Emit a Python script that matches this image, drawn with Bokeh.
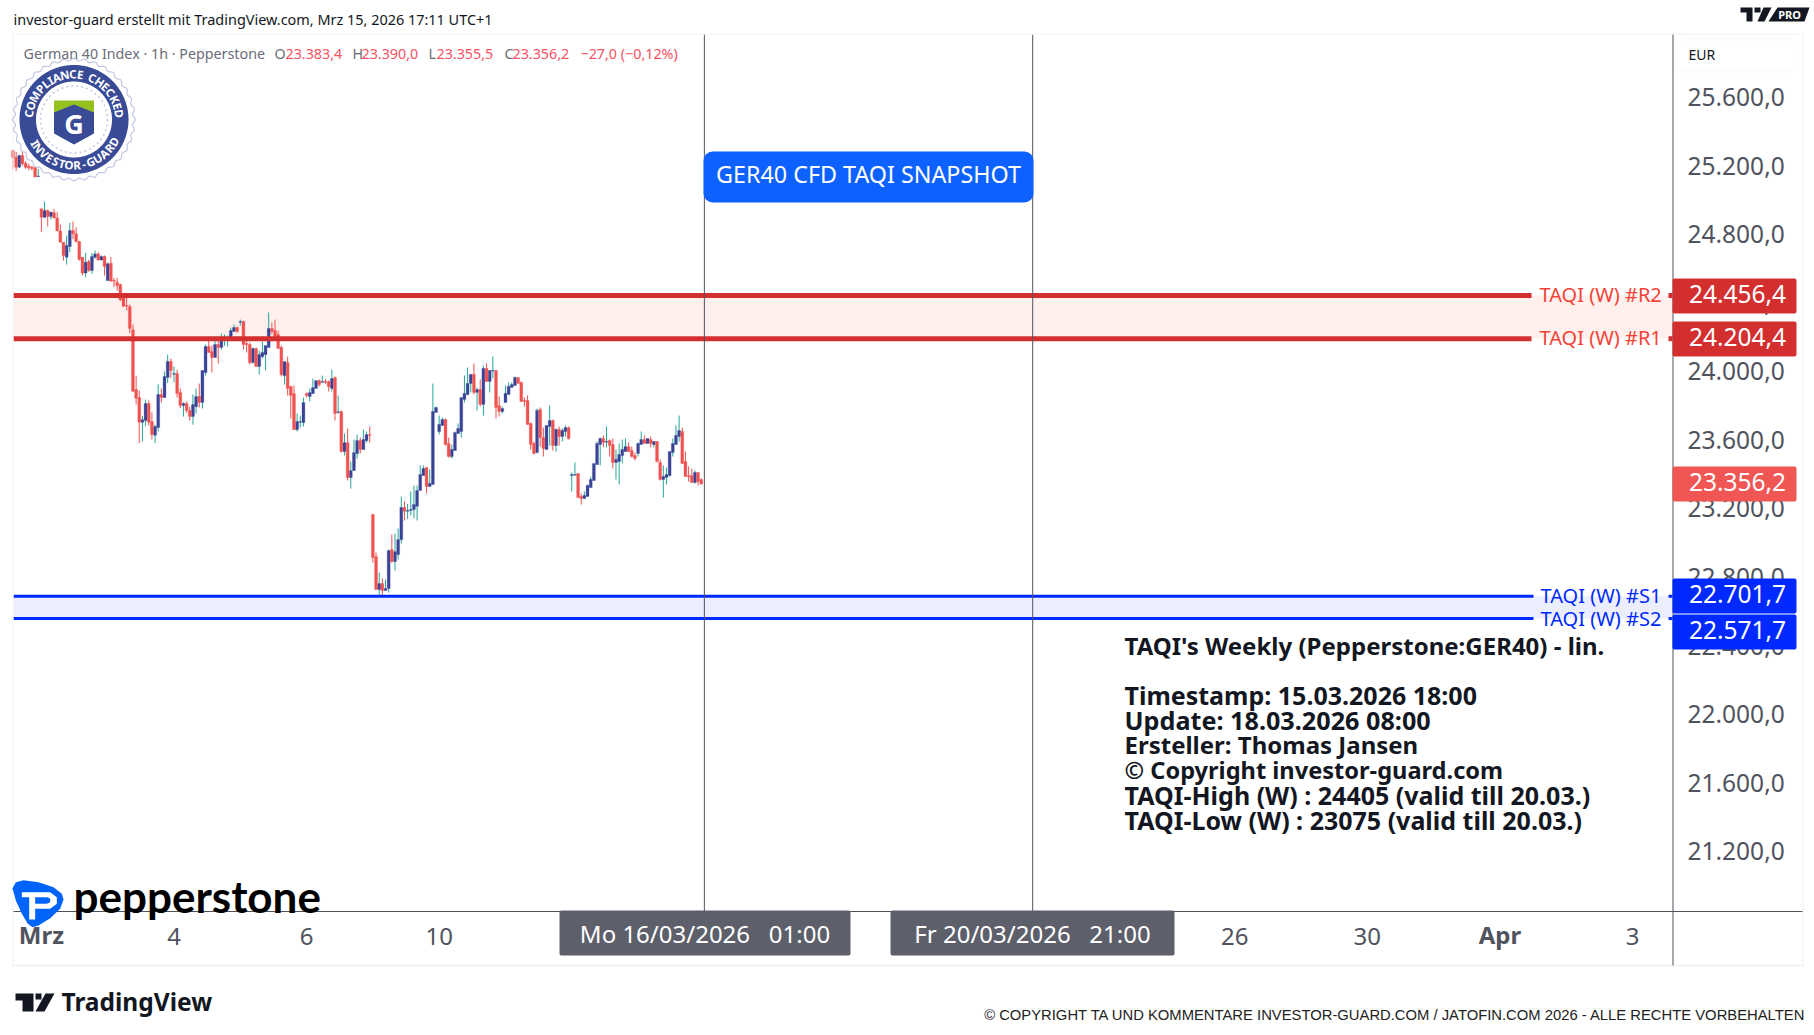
import numpy as np
from bokeh.plotting import figure
from bokeh.embed import file_html
from bokeh.resources import INLINE
from bokeh.models import Label, BoxAnnotation, PolyAnnotation, FixedTicker, Range1d

opens = [25302,25263,25205,25273,25228,25211,25205,25201,25151,
24962,24913,24952,24917,24939,24909,24832,24767,24680,24742,24836,24816,24771,24680,24587,24655,24602,24680,24699,24664,24684,24544,24645,24544,24534,24520,24447,24398,24392,
24256,23908,23861,23717,23727,23826,23721,23641,23686,23879,23861,23978,24071,23997,24001,23890,23814,23826,23785,23750,23808,23867,23832,24007,24159,24129,24094,24170,24153,24199,24199,24199,24246,24269,24301,24304,24176,24170,24065,24147,24042,24100,24112,24153,24264,24252,24229,24153,23989,24065,23925,23884,23674,23717,23715,23884,23867,23884,23914,23960,23950,23956,23954,23914,23978,23774,23779,23546,23598,23394,23435,23534,23610,23558,23610,23645,23178,22933,22741,22776,22735,22747,22974,22904,22945,
23032,23220,23198,23202,23208,23227,23319,23406,23453,23342,23354,23774,23663,23698,23733,23593,23517,23552,23651,23663,23850,23879,23943,23996,23891,23908,23821,24031,23955,24015,24019,23815,23780,23832,23879,23920,23931,23978,23949,23844,23844,23710,23593,23541,23791,23628,23558,23692,23727,23581,23675,23634,23663,23686,23406,23408,23418,23284,23272,23284,23336,23377,23470,23587,23622,23601,23611,23587,23482,23488,23523,23546,23575,23552,23523,23535,23587,23616,23593,23616,23587,23605,23482,23383,23395,23406,23541,23587,23634,23663,23488,23406,23406,23365,23424,23383.4]
highs = [25308,25293,25279,25293,25240,25225,25213,25205,25195,
24962,25005,24958,24943,24962,24943,24871,24767,24806,24880,24888,24855,24775,24680,24705,24665,24705,24719,24709,24690,24690,24650,24680,24559,24559,24525,24450,24447,24404,
24287,23989,23902,23754,23849,23844,23774,23703,23937,23914,24013,24112,24089,24042,24024,23914,23834,23838,23808,23879,23914,23943,24019,24170,24211,24164,24217,24194,24234,24229,24223,24269,24287,24275,24316,24310,24194,24182,24153,24153,24135,24188,24164,24357,24299,24316,24252,24164,24071,24100,23931,23931,23768,23756,23861,23890,23914,23972,23960,23966,23989,23970,23960,24024,23984,23873,23785,23651,23680,23488,23616,23645,23628,23674,23663,23692,23184,22957,22840,22805,22799,22974,23062,23067,23097,
23284,23255,23241,23313,23348,23348,23465,23465,23453,23441,23943,23809,23756,23745,23739,23628,23587,23663,23710,23861,23990,24036,23996,24060,23920,23966,24048,24060,24019,24101,24019,23867,23809,23931,23949,23949,23984,23978,23955,23861,23873,23716,23605,23797,23803,23686,23698,23815,23733,23681,23692,23681,23698,23692,23424,23482,23418,23301,23313,23354,23400,23476,23605,23628,23640,23692,23616,23622,23558,23593,23616,23622,23599,23575,23540,23599,23663,23640,23622,23634,23605,23605,23500,23465,23453,23546,23622,23698,23756,23686,23546,23459,23447,23436,23424,23390]
lows = [25190,25182,25201,25215,25195,25186,25186,25147,25147,
24826,24909,24859,24900,24905,24832,24767,24660,24637,24709,24785,24765,24660,24573,24563,24595,24583,24670,24660,24660,24573,24540,24538,24505,24485,24425,24390,24369,24236,
23892,23820,23595,23606,23694,23698,23616,23595,23663,23832,23861,23945,23976,23950,23861,23799,23750,23773,23727,23703,23768,23803,23797,23989,24124,24007,24094,24059,24141,24164,24159,24199,24246,24240,24281,24141,24124,24054,24059,24042,23995,24089,24019,24153,24229,24211,24147,23984,23937,23873,23738,23674,23663,23686,23692,23861,23838,23884,23914,23925,23945,23941,23896,23896,23727,23768,23540,23523,23377,23330,23435,23505,23534,23558,23598,23598,22898,22741,22700,22706,22735,22723,22898,22852,22916,
23010,23144,23153,23173,23157,23144,23319,23406,23301,23342,23354,23774,23646,23698,23581,23511,23505,23552,23651,23628,23832,23873,23891,23879,23786,23809,23756,23955,23891,23972,23739,23751,23768,23832,23879,23920,23931,23943,23838,23809,23704,23558,23529,23535,23575,23517,23558,23581,23552,23546,23581,23605,23634,23616,23313,23406,23278,23237,23272,23284,23336,23377,23470,23465,23570,23570,23517,23447,23383,23354,23476,23546,23546,23511,23494,23517,23587,23593,23593,23570,23570,23482,23377,23278,23354,23400,23517,23587,23605,23476,23400,23371,23365,23360,23348,23355.5]
closes = [25260,25205,25273,25225,25205,25201,25197,25147,25153,
24913,24952,24917,24943,24909,24832,24767,24690,24748,24836,24816,24771,24666,24587,24651,24602,24684,24699,24664,24684,24625,24641,24540,24540,24515,24431,24394,24394,24264,
23898,23857,23717,23731,23826,23717,23645,23692,23879,23861,23984,24071,24019,24001,23884,23814,23826,23785,23750,23820,23867,23832,24019,24159,24124,24094,24170,24153,24199,24205,24205,24252,24269,24246,24304,24170,24170,24065,24147,24042,24112,24124,24164,24264,24246,24217,24147,23995,24071,23914,23873,23674,23721,23721,23832,23873,23890,23919,23960,23937,23954,23950,23925,23972,23768,23779,23546,23598,23394,23435,23540,23610,23558,23616,23645,23641,22927,22741,22776,22735,22747,22968,22904,22962,23032,
23220,23198,23202,23208,23237,23319,23412,23447,23342,23360,23780,23803,23704,23733,23587,23517,23558,23657,23681,23861,23885,23943,23996,23891,23908,23821,24031,23955,24019,24019,23803,23780,23797,23885,23926,23937,23978,23943,23838,23838,23704,23587,23535,23786,23628,23564,23698,23727,23581,23675,23634,23669,23686,23622,23412,23412,23278,23272,23290,23348,23383,23476,23593,23622,23599,23605,23581,23482,23500,23529,23558,23575,23546,23517,23506,23593,23616,23593,23622,23593,23605,23488,23383,23400,23412,23546,23593,23640,23669,23476,23400,23400,23365,23424,23371,23356.2]

price_ticks = [21200,21600,22000,22400,22800,23200,23600,24000,24400,24800,25200,25600]
price_labels = ["21.200,0","21.600,0","22.000,0","22.400,0","22.800,0","23.200,0","23.600,0","24.000,0","24.400,0","24.800,0","25.200,0","25.600,0"]
time_ticks = [42,84,126,378,420,504]
time_labels = ["4","6","10","26","30","3"]
month_ticks = [0,462]
month_labels = ["Mrz","Apr"]
cursor_ticks = [210,314]
cursor_labels = ["Mo 16/03/2026\u00a0\u00a0\u00a001:00","Fr 20/03/2026\u00a0\u00a0\u00a021:00"]
R2, R1, S1, S2 = 24456.4, 24204.4, 22701.7, 22571.7
LAST = 23356.2

FONT = "Noto Sans"
def X(px): return (px - 40.9) / 3.157
def Y(py): return 24456.4 - (py - 295) * 5.834

p = figure(width=1814, height=1035, output_backend="svg", toolbar_location=None,
           x_range=Range1d(X(0), X(1814)), y_range=Range1d(Y(1035), Y(0)),
           y_axis_location="right", min_border=0, outline_line_color=None,
           background_fill_color="white", border_fill_color="white")
p.grid.visible = False

NUDGE = 14  # the reference's tick texts sit a little above their exact level
ax = p.yaxis[0]
ax.ticker = FixedTicker(ticks=[t + NUDGE for t in price_ticks])
ax.major_label_overrides = {t + NUDGE: l for t, l in zip(price_ticks, price_labels)}
ax.major_tick_line_color = None
ax.minor_tick_line_color = None
ax.major_label_standoff = -133
ax.major_label_text_font = FONT
ax.major_label_text_font_size = "24.5px"
ax.major_label_text_color = "#50535e"
ax.axis_line_color = None

bx = p.xaxis[0]
bx.ticker = FixedTicker(ticks=time_ticks)
bx.major_label_overrides = {t: l for t, l in zip(time_ticks, time_labels)}
bx.major_tick_line_color = None
bx.minor_tick_line_color = None
bx.major_label_standoff = -114
bx.major_label_text_font = FONT
bx.major_label_text_font_size = "24px"
bx.major_label_text_color = "#50535e"
bx.axis_line_color = None

idx = np.arange(len(opens)) - 9
o, h, l, c = map(np.array, (opens, highs, lows, closes))
up = c >= o
UPB, UPW, DN = "#394496", "#26a69a", "#ef5350"

# zones
p.quad(left=X(13), right=X(1672), bottom=R1, top=R2, fill_color="#fff0ee", line_color=None)
p.quad(left=X(13), right=X(1672), bottom=S2, top=S1, fill_color="#ebeefe", line_color=None)

p.segment(idx[up], l[up], idx[up], h[up], line_color=UPW, line_width=1)
p.segment(idx[~up], l[~up], idx[~up], h[~up], line_color=DN, line_width=1)
p.vbar(idx[up], 0.92, o[up], c[up], fill_color=UPB, line_color=UPB, line_width=0.3)
p.vbar(idx[~up], 0.92, c[~up], o[~up], fill_color=DN, line_color=DN, line_width=0.3)

# levels
for v, col, w, xa in ((R2, "#d32f2f", 5, 1531), (R1, "#d32f2f", 5, 1531),
                      (S1, "#0029ff", 3, 1533), (S2, "#0029ff", 3, 1533)):
    p.segment(X(13), v, X(xa), v, line_color=col, line_width=w)
    p.segment(X(1668), v, X(1672), v, line_color=col, line_width=w)

# vertical cursors
for t in cursor_ticks:
    p.segment(t, Y(34), t, Y(911), line_color="#50535e", line_width=1)

def box(x0, x1, y0, y1, fill, radius=0, line=None, width=1):
    p.add_layout(BoxAnnotation(left=X(x0), right=X(x1), top=Y(y0), bottom=Y(y1),
                               fill_color=fill, fill_alpha=1, line_color=line, line_width=width,
                               border_radius=radius, level="annotation"))

def txt(x, y, s, size, color, font=FONT, align="left", style="normal", angle=0):
    p.add_layout(Label(x=X(x), y=Y(y), text=s, text_font_size=f"{size}px", text_color=color,
                       text_font=font, text_align=align, text_baseline="middle",
                       text_font_style=style, angle=angle))

def poly(xs, ys, fill, line=None, width=1, dash="solid", alpha=1):
    p.add_layout(PolyAnnotation(xs=[float(X(a)) for a in xs], ys=[float(Y(b)) for b in ys],
                                fill_color=fill, fill_alpha=alpha, line_color=line,
                                line_width=width, line_dash=dash))

# pane frame
PANE = "#f2f3f5"
box(12, 13, 33, 966, PANE)
box(12, 1803, 33, 34, PANE)
box(1802, 1803, 33, 966, PANE)
box(12, 1803, 964, 966, PANE)
box(1672, 1673, 34, 965, "#50535e")
box(13, 1802, 910.5, 911.5, "#50535e")

# header
txt(13, 19, "investor-guard erstellt mit TradingView.com, Mrz 15, 2026 17:11 UTC+1", 14.45, "#131722")
poly([1740, 1752, 1752, 1746, 1746, 1740], [7, 7, 21, 21, 12, 12], "#131722")
poly([1754, 1760, 1760, 1754], [7, 7, 12, 12], "#131722")
poly([1763, 1771, 1764, 1757], [7, 7, 21, 21], "#131722")
poly([1777, 1809, 1804, 1768], [7, 7, 21, 21], "#131722")
txt(1789, 14, "PRO", 11, "white", align="center", style="bold")

# EUR box
box(1677, 1797, 39, 71, "white", radius=6, line="#f0f3fa", width=1.5)
txt(1688, 54, "EUR", 14, "#131722")

# legend row
GR, RD = "#6a6d78", "#f7525f"
txt(23, 53, "German 40 Index · 1h · Pepperstone", 14.3, GR)
for xa, a, xb, b in ((274, "O", 285, "23.383,4"), (352, "H", 361, "23.390,0"),
                     (428, "L", 436, "23.355,5"), (504, "C", 512, "23.356,2")):
    txt(xa, 53, a, 14.3, GR)
    txt(xb, 53, b, 14.3, RD)
txt(580, 53, "−27,0 (−0,12%)", 14.3, RD)

# compliance badge
cx, cy = 73.5, 119
th = np.linspace(0, 2 * np.pi, 289)
poly(cx + (60 + 1.3 * np.cos(36 * th)) * np.cos(th), cy + (60 + 1.3 * np.cos(36 * th)) * np.sin(th),
     "white", line="#394a97", width=1.2)
poly(cx + 54.5 * np.cos(th), cy + 54.5 * np.sin(th), "#394a97")
poly(cx + 38 * np.cos(th), cy + 38 * np.sin(th), "white")
poly(cx + 33.5 * np.cos(th), cy + 33.5 * np.sin(th), "white", line="#394a97", width=1.5, dash="2 3")
poly([53.5, 73.5, 93.5, 93.5, 73.5, 53.5], [111, 103, 111, 133, 144, 133], "#394a97")
poly([53.5, 93.5, 93.5, 73.5, 53.5], [100, 100, 112, 104, 112], "#95c11f")
txt(73.5, 123, "G", 27, "white", align="center", style="bold")

def arc_text(s, start, span, sign):
    w = np.array([0.45 if ch in "IJ " else 0.6 if ch in "LTEF-" else 1.0 if ch in "MW" else 0.78 for ch in s])
    mids = (np.cumsum(w) - w / 2) / w.sum()
    for ch, m in zip(s, mids):
        a = np.radians(start + sign * m * span)
        rot = a - np.pi / 2 if sign < 0 else a + np.pi / 2
        txt(cx + 45.5 * np.cos(a), cy - 45.5 * np.sin(a), ch, 11.5, "white", align="center", style="bold", angle=rot)

arc_text("COMPLIANCE CHECKED", 178, 176, -1)
arc_text("INVESTOR-GUARD", -152, 128, 1)

# snapshot note
box(703, 1033, 151, 202, "#0d62ff", radius=9)
txt(868, 173.5, "GER40 CFD TAQI SNAPSHOT", 23.3, "white", align="center")

# level labels
for y, s, col, xl in ((294, "TAQI (W) #R2", "#f44336", 1539), (337, "TAQI (W) #R1", "#f44336", 1539),
                      (595, "TAQI (W) #S1", "#0029ff", 1540), (618, "TAQI (W) #S2", "#0029ff", 1540)):
    txt(xl, y, s, 20, col)

# price tags
for v, s, col, y0, y1 in ((R2, "24.456,4", "#d32f2f", 278, 313), (R1, "24.204,4", "#d32f2f", 321, 356),
                          (LAST, "23.356,2", "#f05654", 466, 501),
                          (S1, "22.701,7", "#0029ff", 578, 613), (S2, "22.571,7", "#0029ff", 614, 649)):
    box(1672, 1796, y0, y1, col, radius=2)
    txt(1737, (y0 + y1) / 2 - 2, s, 24.5, "white", align="center")

# weekly note
note = [(644.5, "TAQI's Weekly (Pepperstone:GER40) - lin.", 24), (694, "Timestamp: 15.03.2026 18:00", 25),
        (719, "Update: 18.03.2026 08:00", 25.2), (744, "Ersteller: Thomas Jansen", 24),
        (769, "© Copyright investor-guard.com", 23.6), (794, "TAQI-High (W) : 24405 (valid till 20.03.)", 25),
        (819, "TAQI-Low (W) : 23075 (valid till 20.03.)", 25)]
for y, s, size in note:
    txt(1124, y, s, size, "#131722", style="bold")

# month labels
for t, s in zip(month_ticks, month_labels):
    txt(40.9 + t * 3.157, 934, s, 24, "#50535e", align="center", style="bold")

# cursor tags
for x0, x1, s in ((559, 850, cursor_labels[0]), (890, 1174, cursor_labels[1])):
    box(x0, x1, 910, 955, "#5d606b", radius=2)
    txt((x0 + x1) / 2, 933, s, 24, "white", align="center")

# pepperstone
def LX(z): return [8 + a / 3 for a in z]
def LY(z): return [875 + a / 3 for a in z]
poly(LX([12, 22, 45, 90, 135, 160, 165, 155, 125, 90, 72, 58, 40, 22]),
     LY([38, 20, 14, 20, 35, 55, 72, 100, 128, 150, 155, 145, 115, 75]), "#0064fa")
poly(LX([40, 125, 145, 145, 125, 80, 80, 62, 62, 40]), LY([50, 50, 65, 85, 100, 100, 132, 132, 65, 65]), "white")
poly(LX([80, 118, 125, 125, 115, 80]), LY([65, 65, 70, 80, 85, 85]), "#0064fa")
txt(73, 895, "pepperstone", 44, "#000000", font="Lato", style="bold")

# TradingView footer
poly([15, 33, 33, 22, 22, 15], [993, 993, 1011, 1011, 1000, 1000], "#131722")
poly([35, 41, 41, 35], [993, 993, 999, 999], "#131722")
poly([45, 54, 44, 35], [993, 993, 1011, 1011], "#131722")
txt(61, 1001, "TradingView", 24.5, "#131722", style="bold")

# copyright
txt(1806, 1014, "© COPYRIGHT TA UND KOMMENTARE INVESTOR-GUARD.COM / JATOFIN.COM 2026 - ALLE RECHTE VORBEHALTEN",
    14.8, "#222222", font="Liberation Sans", align="right")

open("out.html", "w").write(file_html(p, INLINE))
